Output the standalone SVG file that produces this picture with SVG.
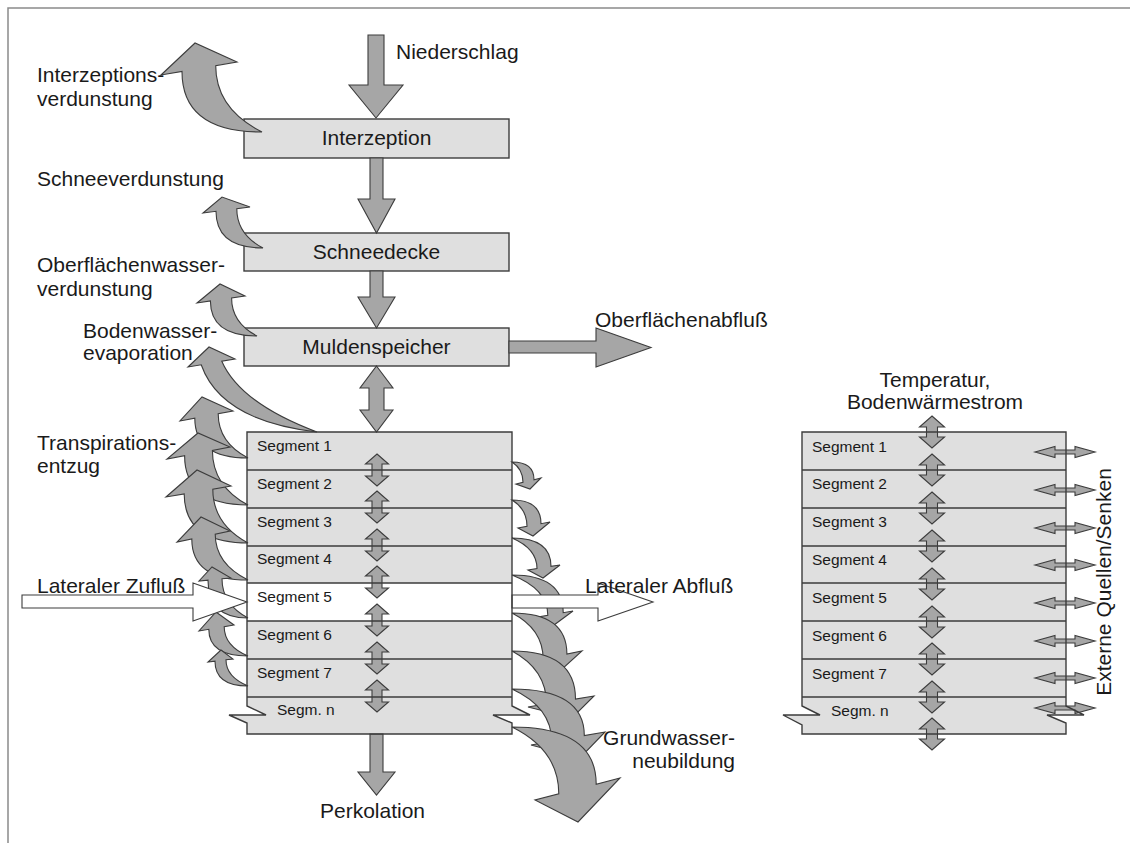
<svg xmlns="http://www.w3.org/2000/svg" width="1130" height="843" viewBox="0 0 1130 843">
<style>
text{font-family:"Liberation Sans",Arial,sans-serif;fill:#1a1a1a}
.lbl{font-size:21px}
.seg{font-size:15.5px}
.mid{text-anchor:middle}
.end{text-anchor:end}
.box{fill:#dfdfdf;stroke:#3c3c3c;stroke-width:1.4}
.fill{fill:#dfdfdf;stroke:none}
.line{fill:none;stroke:#3c3c3c;stroke-width:1.4}
.arr{fill:#a6a6a6;stroke:#3c3c3c;stroke-width:1.1;stroke-linejoin:miter}
.warr{fill:#ffffff;stroke:#3c3c3c;stroke-width:1.1}
.frame{fill:none;stroke:#8a8a8a;stroke-width:1.5}
</style>
<defs>
<path id="vda" class="arr" d="M0,-16 L11.5,-6 H5 V6 H11.5 L0,16 L-11.5,6 H-5 V-6 H-11.5 Z"/>
<path id="vdb" class="arr" d="M0,-16 L12.5,-5 H5.5 V5 H12.5 L0,16 L-12.5,5 H-5.5 V-5 H-12.5 Z"/>
<path id="hda" class="arr" d="M-30,0 L-10,-5.5 V-2 H10 V-5.5 L30,0 L10,5.5 V2 H-10 V5.5 Z"/>
</defs>

<path class="frame" d="M8,843 V8 H1130"/>

<g id="interzeption">
<rect class="box" x="244" y="119" width="265" height="39"/>
<text class="lbl mid" x="376.5" y="145">Interzeption</text>
</g>
<g id="schneedecke">
<rect class="box" x="244" y="233" width="265" height="38"/>
<text class="lbl mid" x="376.5" y="259">Schneedecke</text>
</g>
<g id="muldenspeicher">
<rect class="box" x="244" y="328" width="265" height="38"/>
<text class="lbl mid" x="376.5" y="354">Muldenspeicher</text>
</g>

<g id="boden-links">
<path class="fill" d="M247,432 H512 V706 L530,715 L493,715 L512,723 V734 H247 V723 L229,715 L266,715 L247,706 Z"/>
<rect x="247" y="583" width="265" height="38" fill="#ffffff"/>
<text class="seg" x="257" y="451">Segment 1</text>
<text class="seg" x="257" y="489">Segment 2</text>
<text class="seg" x="257" y="527">Segment 3</text>
<text class="seg" x="257" y="564">Segment 4</text>
<text class="seg" x="257" y="602">Segment 5</text>
<text class="seg" x="257" y="640">Segment 6</text>
<text class="seg" x="257" y="678">Segment 7</text>
<text class="seg" x="277" y="715">Segm. n</text>
</g>

<g id="boden-rechts">
<path class="fill" d="M802,432 H1066 V706 L1084,715 L1047,715 L1066,723 V734 H802 V725 L783,715 L820,715 L802,706 Z"/>
<text class="seg" x="812" y="452">Segment 1</text>
<text class="seg" x="812" y="489">Segment 2</text>
<text class="seg" x="812" y="527">Segment 3</text>
<text class="seg" x="812" y="565">Segment 4</text>
<text class="seg" x="812" y="603">Segment 5</text>
<text class="seg" x="812" y="641">Segment 6</text>
<text class="seg" x="812" y="679">Segment 7</text>
<text class="seg" x="831" y="716">Segm. n</text>
</g>

<g id="connectors">
<!-- vertical flow -->
<path class="arr" d="M368,35 H384 V85 H403 L376,118 L349,85 H368 Z"/>
<path class="arr" d="M370,158 H383 V199 H395 L376.5,233 L358,199 H370 Z"/>
<path class="arr" d="M370,271 H383 V297 H395 L376.5,328 L358,297 H370 Z"/>
<path class="arr" d="M376.5,366 L393,388 H384 V410 H393 L376.5,432 L360,410 H369 V388 H360 Z"/>
<path class="arr" d="M370,734 H383 V772 H395 L376.5,795 L358,772 H370 Z"/>
<path class="arr" d="M509,341 H596 V328 L651,347.5 L596,367 V353 H509 Z"/>
<!-- evaporation -->
<path class="arr" d="M262,132 Q182,132 182,71.4 L161,75 L195,43 L237,62 L215.7,65.6 Q215.7,108.8 262,132 Z"/>
<path class="arr" d="M263,248 Q216,248 216,211.3 L203,213 L222,197 L250,207 L236.8,208.7 Q236.8,234.2 263,248 Z"/>
<path class="arr" d="M257,336 Q210.4,336 210.4,301 L197,303 L220,284 L245,296 L231.6,298 Q231.6,322.7 257,336 Z"/>
<path class="arr" d="M317,432 Q221,421 201.2,364.8 L188,367 L209,347 L235,359 L221.8,361.2 Q240,403 317,432 Z"/>
<!-- transpiration -->
<path class="arr" d="M248,458 Q194.8,458 194.8,418.2 L180,421 L202,397 L233,411 L218.2,413.8 Q218.2,442.5 248,458 Z"/>
<path class="arr" d="M248,505 Q184.6,505 184.6,455.6 L167,459 L198,433 L230,447 L212.4,450.4 Q212.4,485.9 248,505 Z"/>
<path class="arr" d="M248,543 Q184.2,543 184.2,493.9 L166,497 L197,470 L231,486 L212.8,489.1 Q212.8,524.1 248,543 Z"/>
<path class="arr" d="M248,580 Q191.8,580 191.8,538.9 L177,542 L201,517 L230,531 L215.2,534.1 Q215.2,563.9 248,580 Z"/>
<path class="arr" d="M248,618 Q208,618 208,580.2 L199,581 L212,567 L231,578 L222,578.8 Q222,604.3 248,618 Z"/>
<path class="arr" d="M248,656 Q208.8,656 208.8,629.3 L199,631 L216,612 L234,625 L224.2,626.7 Q224.2,645.8 248,656 Z"/>
<path class="arr" d="M248,686 Q215,686 215,661.2 L208,662 L221,650 L233,659 L226,659.8 Q226,677 248,686 Z"/>
<!-- groundwater recharge -->
<path class="arr" d="M512,462 Q534,462 534,479.7 L541,478 L530,489 L516,484 L523,482.3 Q523,469.1 512,462 Z"/>
<path class="arr" d="M512,500 Q541,500 541,523.7 L550,522 L533,536 L518,528 L527,526.3 Q527,509.2 512,500 Z"/>
<path class="arr" d="M512,538 Q551,538 551,566.4 L560,565 L543,578 L528,570 L537,568.6 Q537,548.7 512,538 Z"/>
<path class="arr" d="M512,575 Q563.2,575 563.2,612.7 L573,611 L554,625 L538,617 L547.8,615.3 Q547.8,589.1 512,575 Z"/>
<path class="arr" d="M512,613 Q566.9,613 566.9,654.1 L582,651 L560,671 L528,662 L543.1,658.9 Q543.1,629.1 512,613 Z"/>
<path class="arr" d="M512,651 Q575.5,651 575.5,699.1 L594,696 L572,718 L528,707 L546.5,703.9 Q546.5,669.5 512,651 Z"/>
<path class="arr" d="M512,689 Q584.3,689 584.3,735.6 L605,732 L580,758 L531,745 L551.7,741.4 Q551.7,707.3 512,689 Z"/>
<path class="arr" d="M512,727 Q596.2,727 596.2,784.2 L620,778 L578,822 L535,800 L558.8,793.8 Q558.8,750 512,727 Z"/>
<!-- lateral -->
<path class="warr" d="M22,595 H193 V583 L247,602 L193,621 V608 H22 Z"/>
<path class="warr" d="M512,595 H598 V583 L653,602 L598,621 V608 H512 Z"/>
<!-- vertical exchange left -->
<use href="#vda" x="377" y="470"/>
<use href="#vda" x="377" y="507"/>
<use href="#vda" x="377" y="545"/>
<use href="#vda" x="377" y="582"/>
<use href="#vda" x="377" y="620"/>
<use href="#vda" x="377" y="658"/>
<use href="#vda" x="377" y="696"/>
<!-- heat flux right -->
<use href="#vdb" x="932" y="432"/>
<use href="#vdb" x="932" y="470"/>
<use href="#vdb" x="932" y="508"/>
<use href="#vdb" x="932" y="546"/>
<use href="#vdb" x="932" y="584"/>
<use href="#vdb" x="932" y="622"/>
<use href="#vdb" x="932" y="659"/>
<use href="#vdb" x="932" y="697"/>
<use href="#vdb" x="932" y="734"/>
<!-- external sources/sinks -->
<use href="#hda" x="1065" y="452"/>
<use href="#hda" x="1065" y="490"/>
<use href="#hda" x="1065" y="528"/>
<use href="#hda" x="1065" y="565"/>
<use href="#hda" x="1065" y="603"/>
<use href="#hda" x="1065" y="641"/>
<use href="#hda" x="1065" y="678"/>
<use href="#hda" x="1065" y="708"/>
</g>

<g id="boden-links-linien">
<path class="line" d="M247,432 H512 V706 L530,715 L493,715 L512,723 V734 H247 V723 L229,715 L266,715 L247,706 Z"/>
<path class="line" d="M247,470 H512 M247,508 H512 M247,546 H512 M247,583 H512 M247,621 H512 M247,659 H512 M247,697 H512"/>
</g>
<g id="boden-rechts-linien">
<path class="line" d="M802,432 H1066 V706 L1084,715 L1047,715 L1066,723 V734 H802 V725 L783,715 L820,715 L802,706 Z"/>
<path class="line" d="M802,470 H1066 M802,508 H1066 M802,546 H1066 M802,583 H1066 M802,621 H1066 M802,659 H1066 M802,697 H1066"/>
</g>

<g id="labels">
<text class="lbl" x="396" y="59">Niederschlag</text>
<text class="lbl" x="37" y="82">Interzeptions-</text>
<text class="lbl" x="37" y="106">verdunstung</text>
<text class="lbl" x="37" y="186">Schneeverdunstung</text>
<text class="lbl" x="37" y="272">Oberflächenwasser-</text>
<text class="lbl" x="37" y="296">verdunstung</text>
<text class="lbl" x="83" y="338">Bodenwasser-</text>
<text class="lbl" x="83" y="360">evaporation</text>
<text class="lbl" x="37" y="450">Transpirations-</text>
<text class="lbl" x="37" y="473">entzug</text>
<text class="lbl" x="37" y="593">Lateraler Zufluß</text>
<text class="lbl" x="595" y="327">Oberflächenabfluß</text>
<text class="lbl" x="585" y="593">Lateraler Abfluß</text>
<text class="lbl end" x="735" y="745">Grundwasser-</text>
<text class="lbl end" x="735" y="768">neubildung</text>
<text class="lbl mid" x="372.5" y="818">Perkolation</text>
<text class="lbl mid" x="935" y="387">Temperatur,</text>
<text class="lbl mid" x="935" y="409">Bodenwärmestrom</text>
<text class="lbl mid" transform="translate(1111,582) rotate(-90)">Externe Quellen/Senken</text>
</g>
</svg>
